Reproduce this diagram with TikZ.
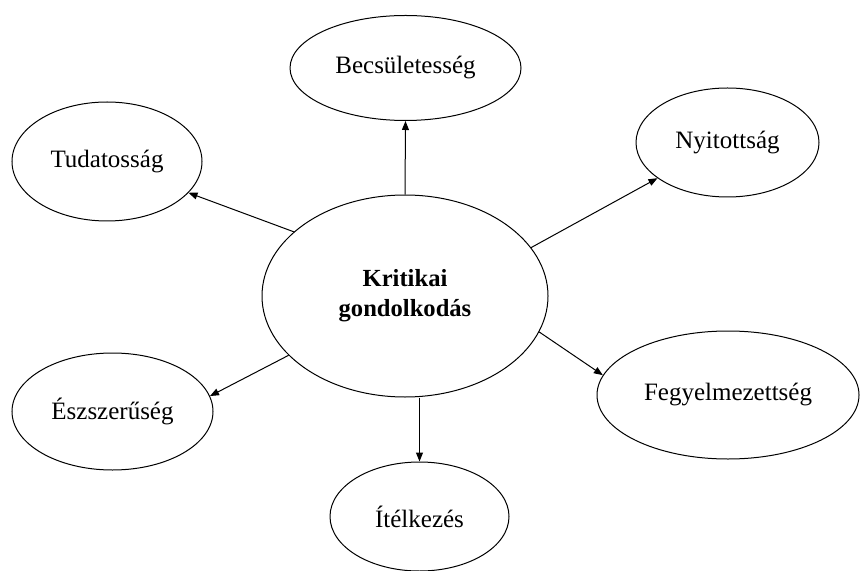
\documentclass[tikz,border=0pt]{standalone}
\usepackage{fontspec}
\setmainfont{Liberation Serif}
\usetikzlibrary{shapes.geometric,arrows.meta}

\begin{document}
\begin{tikzpicture}[
    x=0.5pt, y=-0.5pt,
    font=\fontsize{12.5}{15}\selectfont,
    oval/.style={draw, ellipse, line width=0.5pt, inner sep=0pt, align=center},
    arrow/.style={-{Triangle[length=4.5pt, width=3.5pt]}, line width=0.5pt}
]
  \useasboundingbox (0,0) rectangle (860,571);

  % =========================================================================
  % KÖZPONTI FOGALOM
  % =========================================================================
  \node[oval, minimum width=143pt, minimum height=101pt, font=\fontsize{12.3}{15}\selectfont\bfseries] (n_kg) at (405, 296) {Kritikai\\gondolkodás};

  % =========================================================================
  % KÜLSŐ ELEMEK
  % =========================================================================
  \node[oval, minimum width=115.5pt, minimum height=52.5pt] (n_becs) at (405.5, 68) {Becsületesség};
  \node[oval, minimum width=95pt, minimum height=59.5pt] (n_tud) at (107, 161.5) {Tudatosság};
  \node[oval, minimum width=91.5pt, minimum height=54.5pt] (n_nyit) at (727.5, 142.5) {Nyitottság};
  \node[oval, minimum width=100.5pt, minimum height=58.5pt] (n_esz) at (112.5, 411.5) {Észszerűség};
  \node[oval, minimum width=89.5pt, minimum height=54.5pt] (n_itel) at (419.5, 516.5) {Ítélkezés};
  \node[oval, minimum width=131pt, minimum height=64pt] (n_feg) at (728, 395) {Fegyelmezettség};

  % Nyilak
  \draw[arrow] (n_kg.north) -- (n_becs.south);
  \draw[arrow] (n_kg.150.5) -- (n_tud.339);
  \draw[arrow] (n_kg.21.7) -- (n_nyit.207);
  \draw[arrow] (n_kg.207.4) -- (n_esz.9.3);
  \draw[arrow] (n_kg.south -| n_itel.north) -- (n_itel.north);
  \draw[arrow] (n_kg.345) -- (n_feg.171);

\end{tikzpicture}
\end{document}
